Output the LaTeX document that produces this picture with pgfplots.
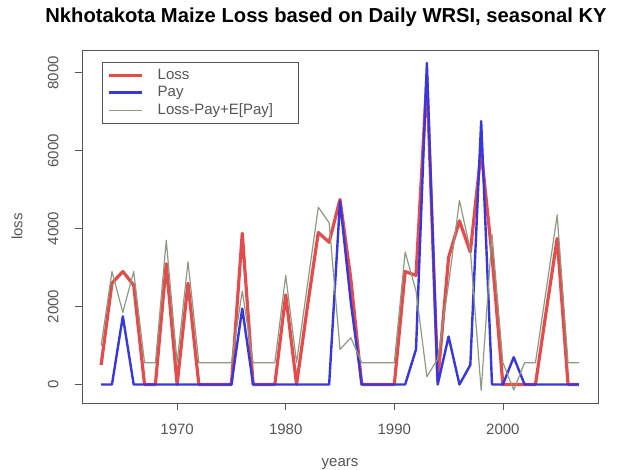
\documentclass[border=0pt]{standalone}
\usepackage{fontspec}
\setmainfont{Liberation Sans}
\usepackage{pgfplots}
\usepackage{pgfplotstable}
\pgfplotsset{compat=1.18}
\definecolor{lossred}{RGB}{230,75,75}
\definecolor{payblue}{RGB}{55,55,225}
\definecolor{diffgreen}{RGB}{140,155,130}
\definecolor{axgray}{RGB}{85,85,85}

\pgfplotstableread{
year loss pay diff
1963 500 0 1000
1964 2600 0 2900
1965 2900 1750 1850
1966 2550 0 2900
1967 0 0 560
1968 0 0 560
1969 3100 0 3700
1970 0 0 560
1971 2600 0 3150
1972 0 0 560
1973 0 0 560
1974 0 0 560
1975 0 0 560
1976 3880 1950 2400
1977 0 0 560
1978 0 0 560
1979 0 0 560
1980 2300 0 2800
1981 0 0 560
1982 2000 0 2550
1983 3900 0 4550
1984 3650 0 4150
1985 4750 4700 900
1986 2700 2100 1200
1987 0 0 560
1988 0 0 560
1989 0 0 560
1990 0 0 560
1991 2900 0 3400
1992 2800 900 2400
1993 7900 8250 200
1994 100 0 660
1995 3260 1230 2590
1996 4200 0 4720
1997 3400 500 3460
1998 6000 6760 -150
1999 3300 0 3850
2000 0 0 560
2001 0 700 -140
2002 0 0 560
2003 0 0 560
2004 1900 0 2450
2005 3750 0 4350
2006 0 0 560
2007 0 0 560
}\datatable

\begin{document}
\begin{tikzpicture}[x=1pt,y=1pt]
\path[use as bounding box] (0,0) rectangle (636,470);
\begin{axis}[
  at={(82pt,67pt)}, anchor=south west,
  width=516pt, height=353pt, scale only axis,
  xmin=1961.24, xmax=2008.76, ymin=-475, ymax=8585,
  xtick={1970,1980,1990,2000}, ytick={0,2000,4000,6000,8000},
  tick align=outside, major tick length=7pt,
  xtick pos=bottom, ytick pos=left,
  tick style={axgray, line width=0.7pt},
  axis line style={axgray, line width=0.9pt},
  ticklabel style={font=\fontsize{15}{18}\selectfont, text=axgray},
  xticklabel style={yshift=-10pt},
  yticklabel style={rotate=90, anchor=south, yshift=13pt},
  /pgf/number format/assume math mode=true,
  /pgf/number format/set thousands separator={},
  xlabel={years}, ylabel={loss},
  label style={font=\fontsize{15}{18}\selectfont, text=axgray},
  xlabel style={at={(axis description cs:0.5,-0.172)}, anchor=center},
  ylabel style={at={(axis description cs:-0.126,0.5)}, anchor=center},
  title={Nkhotakota Maize Loss based on Daily WRSI, seasonal KY},
  title style={font=\fontsize{20.2}{23}\selectfont\bfseries, at={(axis description cs:0.5,1.099)}, anchor=center, yshift=-8pt, xshift=-14pt},
  legend style={at={(axis description cs:0.039,0.966)}, anchor=north west,
    draw=axgray, line width=0.7pt, font=\fontsize{15}{17}\selectfont, text=axgray,
    row sep=1.5pt, inner xsep=5pt, inner ysep=5pt},
  legend cell align=left,
  legend image code/.code={\draw[#1] (0pt,0pt) -- (33pt,0pt);},
]
\addplot[lossred, line width=3.2pt, line join=round] table[x=year, y=loss] {\datatable};
\addlegendentry{\makebox[146pt][l]{\hspace{12pt}Loss}}
\addplot[payblue, line width=2.4pt, line join=round] table[x=year, y=pay] {\datatable};
\addlegendentry{\makebox[146pt][l]{\hspace{12pt}Pay}}
\addplot[diffgreen, line width=1.2pt, line join=round] table[x=year, y=diff] {\datatable};
\addlegendentry{\makebox[146pt][l]{\hspace{12pt}Loss-Pay+E[Pay]}}
\end{axis}
\end{tikzpicture}
\end{document}
